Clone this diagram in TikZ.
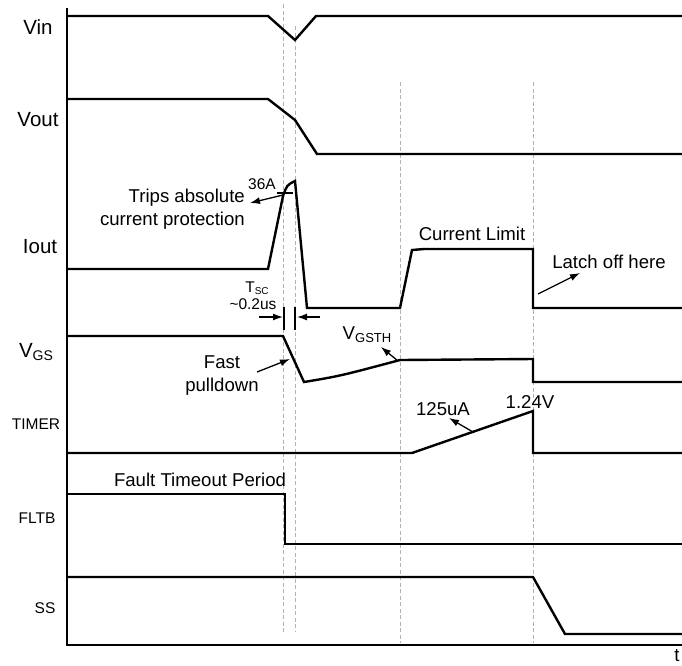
\documentclass[tikz,border=0pt]{standalone}
\usepackage{fontspec}
\setmainfont{Liberation Sans}
\usetikzlibrary{arrows.meta,positioning}

\begin{document}
\begin{tikzpicture}[x=1pt,y=-1pt,>={Latex[length=10pt,width=7pt]},
    sig/.style={line width=2.4pt,line join=miter},
    axis/.style={line width=1.4pt},
    guide/.style={gray!60,dash pattern=on 4pt off 2.5pt,line width=0.8pt},
    pin/.style={->,line width=1.3pt},
    big/.style={font=\fontsize{20.5}{24}\selectfont,inner sep=0pt},
    mid/.style={font=\fontsize{18.6}{23}\selectfont,inner sep=0pt},
    small/.style={font=\fontsize{15.5}{18}\selectfont,inner sep=0pt}]

  \useasboundingbox (0,0) rectangle (682,665);

  % dashed guides
  \draw[guide] (283,4) -- (283,632);
  \draw[guide] (295,26) -- (295,632);
  \draw[guide] (400,82) -- (400,643);
  \draw[guide] (533,82) -- (533,643);

  % axes
  \draw[axis] (67,8) -- (67,645) -- (682,645);
  \node[mid] (t) at (677,656) {t};

  % signal names
  \node[big] (vin) at (38,27) {Vin};
  \node[big] (vout) at (38,120) {Vout};
  \node[big] (iout) at (40,247) {Iout};
  \node[big] (vgs) at (36,352) {V{\fontsize{14}{14}\selectfont\raisebox{-3pt}{GS}}};
  \node[small] (timer) at (36,424) {TIMER};
  \node[small] (fltb) at (37,518) {FLTB};
  \node[small] (ss) at (45,608) {SS};

  % waveforms
  \draw[sig] (67,16) -- (268,16) -- (295,40) -- (316,16) -- (682,16);
  \draw[sig] (67,99) -- (268,99) -- (295,120) -- (317,154) -- (682,154);
  \draw[sig] (67,269) -- (268,269) -- (283,196) .. controls (287,185) .. (295,181)
        -- (307,308) -- (400,308) -- (412,250) -- (424,249) -- (533,249)
        -- (533,308) -- (682,308);
  \draw[sig] (67,336) -- (283,336) -- (304,382) .. controls (340,376) .. (400,360)
        -- (533,359) -- (533,382) -- (682,382);
  \draw[sig] (67,453) -- (412,453) -- (533,411) -- (533,453) -- (682,453);
  \draw[sig] (67,494) -- (285,494) -- (285,544) -- (682,544);
  \draw[sig] (67,577) -- (533,577) -- (565,634) -- (682,634);

  % notes
  \node[small] (peak) at (262,184) {36A};
  \draw[line width=1.3pt] (277,193) -- (293,193);
  \node[mid,align=right,anchor=east] (trips) at (245,209.5) {Trips absolute\\current protection};
  \coordinate (tripsfrom) at (283,195);
  \coordinate (tripsto) at (250,203);
  \draw[pin] (tripsfrom) -- (tripsto);

  \node[small] (tsc) at (257,288) {T{\fontsize{10}{10}\selectfont\raisebox{-2pt}{SC}}};
  \node[small] (tscval) at (253,304) {\char`\~0.2us};
  \draw[line width=1.3pt] (284,307) -- (284,330);
  \draw[line width=1.3pt] (295,307) -- (295,330);
  \coordinate (tscl) at (259,317);
  \coordinate (tscr) at (320,317);
  \draw[pin] (tscl) -- (283,317);
  \draw[pin] (tscr) -- (297,317);

  \node[mid,align=center] (fast) at (222,375.5) {Fast\\pulldown};
  \coordinate (fastfrom) at (257,372);
  \coordinate (fastto) at (290,359);
  \draw[pin] (fastfrom) -- (fastto);

  \node[mid] (vgsth) at (367,335) {V{\fontsize{13}{13}\selectfont\raisebox{-3pt}{GSTH}}};
  \coordinate (thfrom) at (398,361);
  \coordinate (thto) at (381,347);
  \draw[pin] (thfrom) -- (thto);

  \node[mid] (climit) at (472,234) {Current Limit};

  \node[mid] (latch) at (609,262) {Latch off here};
  \coordinate (latchfrom) at (538,294);
  \coordinate (latchto) at (580,273);
  \draw[pin] (latchfrom) -- (latchto);

  \node[mid] (ramp) at (443,409) {125uA};
  \coordinate (rampfrom) at (473,432);
  \coordinate (rampto) at (449,418);
  \draw[pin] (rampfrom) -- (rampto);
  \node[mid] (vth) at (530,402) {1.24V};

  \node[mid] (fault) at (200,480) {Fault Timeout Period};

\end{tikzpicture}
\end{document}
